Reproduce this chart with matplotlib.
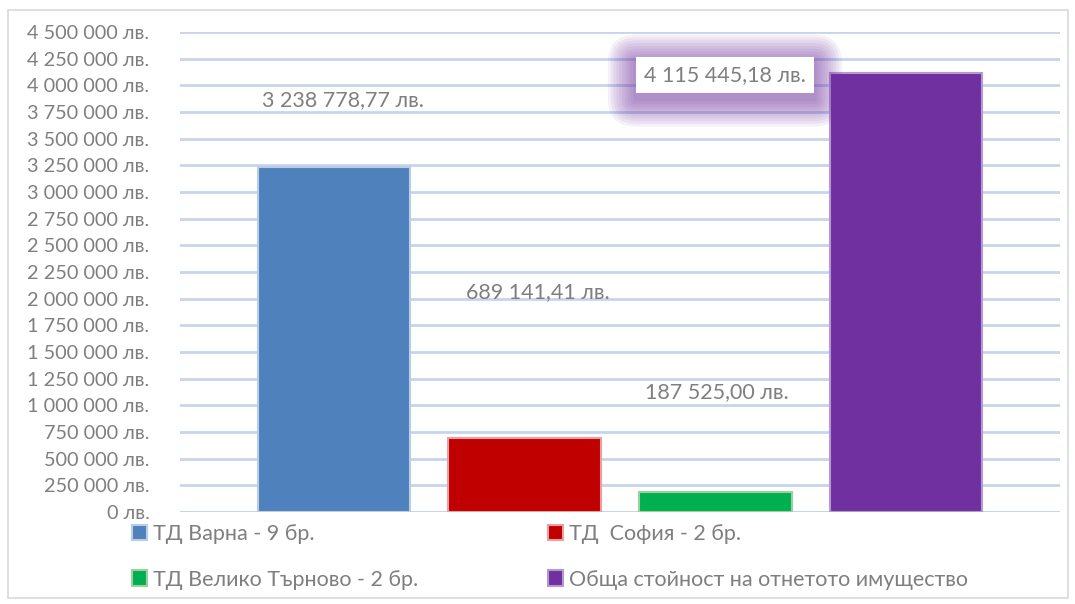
import numpy as np
import matplotlib.pyplot as plt
from matplotlib.patches import Rectangle, FancyBboxPatch
from matplotlib.ticker import FuncFormatter

series = ['ТД Варна - 9 бр.', 'ТД  София - 2 бр.',
          'ТД Велико Търново - 2 бр.', 'Обща стойност на отнетото имущество']
values = [3238778.77, 689141.41, 187525.00, 4115445.18]
value_labels = ['3 238 778,77 лв.', '689 141,41 лв.', '187 525,00 лв.', '4 115 445,18 лв.']
colors = ['#4f81bd', '#c00000', '#00b050', '#7030a0']
edges = ['#b9cde5', '#e6a0a0', '#9bd0a0', '#b49ad0']
# where Excel put the data labels (x, y in data units)
label_pos = [(0.05, 3860000), (1.07, 2060000), (2.01, 1120000), (2.05, 4100000)]

plt.rcParams['font.family'] = ['Lato', 'DejaVu Sans']
grey = '#7f7f7f'

fig = plt.figure(figsize=(10.75, 6.04), dpi=100)
fig.patches.append(Rectangle((8 / 1075, 6 / 604), 1060 / 1075, 588 / 604,
                             transform=fig.transFigure, fill=False,
                             edgecolor='#d9d9d9', linewidth=1.2))
ax = fig.add_axes([180 / 1075, 92 / 604, 880 / 1075, 480 / 604])

x = np.arange(len(values))
bars = []
for i in range(len(values)):
    b = ax.bar(x[i], values[i], width=0.8, color=colors[i], edgecolor=edges[i],
               linewidth=1.5, label=series[i], zorder=3)
    bars.append(b)

ax.set_xlim(-0.807, 3.807)
ax.set_ylim(0, 4500000)
ax.set_yticks(np.arange(0, 4500001, 250000))
ax.yaxis.set_major_formatter(FuncFormatter(
    lambda v, p: '{:,.0f} лв.'.format(v).replace(',', ' ')))
ax.tick_params(axis='y', length=0, labelsize=14.3, labelcolor=grey, pad=22)
ax.set_xticks([])
for s in ax.spines.values():
    s.set_visible(False)
ax.grid(axis='y', color='#c6d5ec', linewidth=2, zorder=0)
ax.axhline(0, color='#c6d5ec', linewidth=2, zorder=1)

for i in range(3):
    ax.text(label_pos[i][0], label_pos[i][1], value_labels[i], ha='center',
            va='center', fontsize=15.5, color=grey, zorder=5)

# glowing label for the total
lx, ly = label_pos[3]
ypx = 4500000 / 480
xpx = 4.614 / 880
w, h = 178 * xpx, 36 * ypx
for k in range(10, 0, -1):
    grow = 2.8 * k
    ax.add_patch(FancyBboxPatch((lx - w / 2 - grow * xpx, ly - h / 2 - 6 * ypx - grow * ypx),
                                w + 2 * grow * xpx, h + 2 * grow * ypx,
                                boxstyle='round,pad=0,rounding_size=%f' % (grow * xpx + 0.001),
                                mutation_aspect=ypx / xpx, facecolor='#7030a0',
                                edgecolor='none', alpha=0.07, zorder=4))
ax.add_patch(Rectangle((lx - w / 2, ly - h / 2), w, h, facecolor='white',
                       edgecolor='none', zorder=5))
ax.text(lx, ly, value_labels[3], ha='center', va='center', fontsize=15.5,
        color=grey, zorder=6)

order = [0, 2, 1, 3]
ax.legend([bars[i] for i in order], [series[i] for i in order],
          loc='upper left', bbox_to_anchor=(-0.077, 0.016), ncol=2,
          frameon=False, fontsize=15.5, labelcolor=grey, handlelength=0.7,
          handleheight=0.7, handletextpad=0.3, columnspacing=6.0,
          labelspacing=1.2)

fig.savefig('out.png', dpi=100)
